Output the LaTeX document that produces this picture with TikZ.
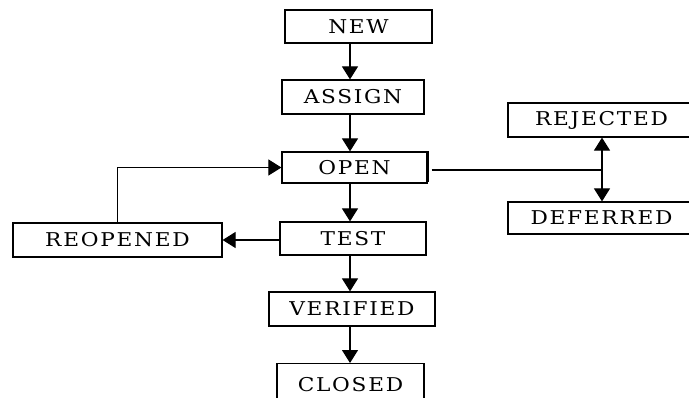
\documentclass[tikz,border=0pt]{standalone}
\usepackage{fontspec}
\usepackage{graphicx}
\setmainfont[LetterSpace=8]{DejaVu Serif}
\usetikzlibrary{arrows.meta}
\newcommand{\widelbl}[1]{\scalebox{1.14}[1]{#1}}
\begin{document}
\begin{tikzpicture}[x=1pt,y=-1pt,
  statebox/.style={draw=black,line width=1.2pt,fill=white,inner sep=0pt,
    font=\fontsize{19}{21}\selectfont},
  conn/.style={line width=1.1pt,-{Triangle[width=16pt,length=13pt]}},
  link/.style={line width=1.1pt}]
\useasboundingbox (0,0) rectangle (689,397);
\clip (0,0) rectangle (689,397);
\node[statebox,minimum width=147pt,minimum height=33pt] (NEW) at (358.5,26.5) {\widelbl{NEW}};
\node[statebox,minimum width=142pt,minimum height=34pt] (ASSIGN) at (353,97) {\widelbl{ASSIGN}};
\node[statebox,minimum width=145pt,minimum height=31pt] (OPEN) at (354.5,167.5) {\widelbl{OPEN}};
\node[statebox,minimum width=146pt,minimum height=33pt] (TEST) at (353,238.5) {\widelbl{TEST}};
\node[statebox,minimum width=166pt,minimum height=34pt] (VERIFIED) at (352,309) {\widelbl{VERIFIED}};
\node[statebox,minimum width=147pt,minimum height=36pt,text depth=0pt,anchor=north] (CLOSED) at (350.5,363) {\raisebox{-5pt}{\widelbl{CLOSED}}};
\node[statebox,minimum width=209pt,minimum height=34pt] (REOPENED) at (117.5,240) {\widelbl{REOPENED}};
\node[statebox,minimum width=187pt,minimum height=34pt] (REJECTED) at (601.5,120) {\widelbl{REJECTED}};
\node[statebox,minimum width=187pt,minimum height=32pt] (DEFERRED) at (601.5,218) {\widelbl{DEFERRED}};
\draw[line width=2.2pt] (OPEN.north east) -- ([yshift=2pt]OPEN.south east);
\coordinate (col) at (350,0);
\coordinate (j) at (602,170);
\draw[conn] (NEW.south -| col) -- (ASSIGN.north -| col);
\draw[conn] (ASSIGN.south -| col) -- (OPEN.north -| col);
\draw[conn] (OPEN.south -| col) -- (TEST.north -| col);
\draw[conn] (TEST.south -| col) -- (VERIFIED.north -| col);
\draw[conn] (VERIFIED.south -| col) -- (CLOSED.north -| col);
\draw[conn] (TEST.west |- REOPENED.east) -- (REOPENED.east);
\draw[conn] (REOPENED.north) |- (OPEN.west);
\draw[link] ([xshift=4pt]OPEN.east |- j) -- (j);
\draw[line width=1.1pt,{Triangle[width=16pt,length=13pt]}-{Triangle[width=16pt,length=13pt]}] (j |- REJECTED.south) -- (j |- DEFERRED.north);
\end{tikzpicture}
\end{document}
